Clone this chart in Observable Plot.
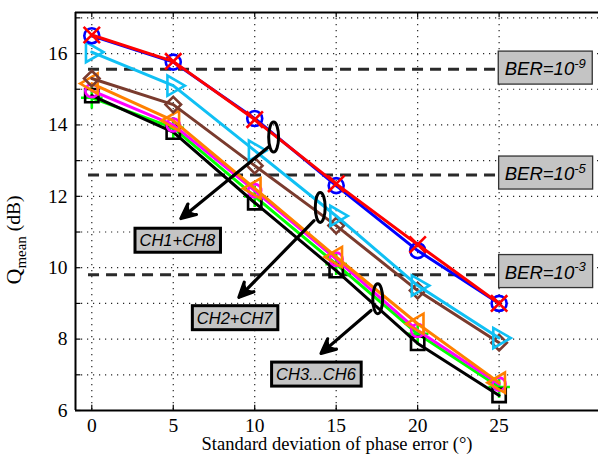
<!DOCTYPE html>
<html><head><meta charset="utf-8">
<script src="https://cdn.jsdelivr.net/npm/d3@7"></script>
<script src="https://cdn.jsdelivr.net/npm/@observablehq/plot@0.6"></script>
<style>body{margin:0;background:#fff} svg{display:block}</style>
</head><body><div id="chart"></div>
<script>
// ---- data ----
const phaseStd = [0, 5, 10, 15, 20, 25];
const ch1 = [16.5, 15.76, 14.18, 12.3, 10.48, 9.0];
const ch8 = [16.52, 15.78, 14.15, 12.35, 10.65, 9.0];
const ch2 = [16.04, 15.1, 13.28, 11.45, 9.5, 8.03];
const ch7 = [15.3, 14.57, 12.86, 11.18, 9.36, 7.9];
const ch5 = [15.16, 14.12, 12.22, 10.3, 8.43, 6.78];
const ch4 = [14.96, 14.0, 12.16, 10.24, 8.24, 6.74];
const ch3 = [14.76, 13.92, 12.0, 10.1, 8.15, 6.66];
const ch6 = [14.82, 13.8, 11.82, 9.92, 7.88, 6.42];

const xTicks = [0, 5, 10, 15, 20, 25];
const yTickLabels = [6, 8, 10, 12, 14, 16];
const yMinorTicks = [6, 7, 8, 9, 10, 11, 12, 13, 14, 15, 16, 17];
const yGrid = [7, 8, 9, 10, 11, 12, 13, 14, 15, 16, 17];

const berLevels = [15.56, 12.6, 9.8];
const berExps = ["-9", "-5", "-3"];
const berLabelX = [28.2, 28.2, 28.2];
const berLabelY = [15.56, 12.62, 9.86];

const groupNames = ["CH1+CH8", "CH2+CH7", "CH3...CH6"];
const ellipseX = [11.16, 14.02, 17.55];
const ellipseY = [13.66, 11.69, 9.13];
const arrowX1 = [10.9, 13.64, 17.14];
const arrowY1 = [13.4, 11.32, 8.8];
const arrowX2 = [5.47, 9.03, 14.07];
const arrowY2 = [11.38, 9.17, 7.6];
const labelX = [5.25, 8.77, 13.76];
const labelY = [10.75, 8.58, 7.0];

const xLabel = "Standard deviation of phase error (°)";

// ---- styles ----
const series = [
  {vals: ch3, color: "#00ff00", symbol: "plus", r: 7, rotate: 0},
  {vals: ch6, color: "#000000", symbol: "square", r: 7.5, rotate: 0},
  {vals: ch4, color: "#ff00ff", symbol: "circle", r: 6.5, rotate: 0},
  {vals: ch5, color: "#ff8000", symbol: "triangle", r: 7.5, rotate: -90},
  {vals: ch7, color: "#7a3b2e", symbol: "diamond2", r: 7, rotate: 0},
  {vals: ch2, color: "#10c0f4", symbol: "triangle", r: 7.5, rotate: 90},
  {vals: ch1, color: "#0000ff", symbol: "circle", r: 7.5, rotate: 0},
  {vals: ch8, color: "#ff0000", symbol: "times", r: 7.5, rotate: 0}
];

const X0 = -1, X1 = 31.1, Y0 = 6, Y1 = 17.15;
const serif = "Liberation Serif";
const sans = "Liberation Sans";

const ellipseSymbol = {
  draw(ctx, size) {
    const ry = Math.sqrt(size / Math.PI), rx = ry * 0.33, k = 0.5523;
    ctx.moveTo(0, -ry);
    ctx.bezierCurveTo(rx * k, -ry, rx, -ry * k, rx, 0);
    ctx.bezierCurveTo(rx, ry * k, rx * k, ry, 0, ry);
    ctx.bezierCurveTo(-rx * k, ry, -rx, ry * k, -rx, 0);
    ctx.bezierCurveTo(-rx, -ry * k, -rx * k, -ry, 0, -ry);
    ctx.closePath();
  }
};

const gridStyle = {stroke: "#000", strokeOpacity: 0.85, strokeWidth: 1.2, strokeDasharray: "1.2,4.8"};

const marks = [
  Plot.ruleX(xTicks, {x: d => d, ...gridStyle}),
  Plot.ruleY(yGrid, {y: d => d, ...gridStyle}),
  Plot.ruleY(berLevels, {y: d => d, x1: () => -0.2, x2: () => 25.4, stroke: "#2a2a2a", strokeWidth: 3, strokeDasharray: "11,7"})
];

for (const s of series) {
  const rows = phaseStd.map((x, j) => ({x, y: s.vals[j]}));
  marks.push(Plot.line(rows, {x: "x", y: "y", stroke: s.color, strokeWidth: 3}));
  marks.push(Plot.dot(rows, {x: "x", y: "y", symbol: s.symbol, r: s.r, rotate: s.rotate, stroke: s.color, fill: "none", strokeWidth: 2.6}));
}

const idx = groupNames.map((_, i) => i);
marks.push(
  Plot.dot(idx, {x: i => ellipseX[i], y: i => ellipseY[i], symbol: ellipseSymbol, r: 15, stroke: "#000", fill: "none", strokeWidth: 3}),
  Plot.arrow(idx, {x1: i => arrowX1[i], y1: i => arrowY1[i], x2: i => arrowX2[i], y2: i => arrowY2[i], stroke: "#000", strokeWidth: 3.2, headLength: 7.5, headAngle: 50, className: "annarrow"}),
  Plot.text(idx, {x: i => labelX[i], y: i => labelY[i], text: i => groupNames[i], fontSize: 16.5, fontStyle: "italic", fontFamily: sans, fill: "#000", className: "chlbl"}),
  Plot.text(berExps.map((_, i) => i), {x: i => berLabelX[i], y: i => berLabelY[i], text: () => "BER=10", fontSize: 18.5, fontStyle: "italic", fontFamily: sans, fill: "#000", dx: -6, className: "berlbl"}),
  // frame (left, bottom, top)
  Plot.ruleX([X0], {x: d => d, stroke: "#000", strokeWidth: 2}),
  Plot.ruleY([Y0], {y: d => d, stroke: "#000", strokeWidth: 2}),
  Plot.ruleY([Y1], {y: d => d, stroke: "#000", strokeWidth: 2}),
  // inner ticks
  Plot.ruleY(yMinorTicks, {y: d => d, x1: () => X0, x2: () => X0 + 0.33, stroke: "#000", strokeWidth: 1.2}),
  Plot.ruleX(xTicks, {x: d => d, y1: () => Y0, y2: () => Y0 + 0.15, stroke: "#000", strokeWidth: 1.2}),
  Plot.ruleX(xTicks, {x: d => d, y1: () => Y1, y2: () => Y1 - 0.15, stroke: "#000", strokeWidth: 1.2}),
  Plot.axisX(xTicks, {anchor: "bottom", tickSize: 0, tickPadding: 8, fontSize: 19.5, fontFamily: serif, label: null}),
  Plot.axisY(yTickLabels, {anchor: "left", tickSize: 0, tickPadding: 8, fontSize: 19.5, fontFamily: serif, label: null}),
  Plot.text([xLabel], {frameAnchor: "bottom", lineAnchor: "middle", text: d => d, dy: 34, fontSize: 18.5, fontFamily: serif, fill: "#000"}),
  Plot.text(["Q"], {frameAnchor: "left", lineAnchor: "middle", text: d => d, fontSize: 22, fontFamily: serif, fill: "#000", className: "ylab"})
);

const svg = Plot.plot({
  width: 598, height: 461,
  marginLeft: 75, marginRight: 0, marginTop: 12, marginBottom: 51,
  x: {domain: [X0, X1], axis: null},
  y: {domain: [Y0, Y1], axis: null},
  style: {fontFamily: serif, color: "#000", background: "#fff"},
  marks
});
document.getElementById("chart").append(svg);

const NS = "http://www.w3.org/2000/svg";
function boxBehind(textEl, opts) {
  const b = textEl.getBBox();
  const cx = b.x + b.width / 2, cy = b.y + b.height / 2;
  const w = opts.w != null ? opts.w : b.width + 2 * opts.px;
  const h = opts.h != null ? opts.h : b.height + 2 * opts.py;
  const r = document.createElementNS(NS, "rect");
  r.setAttribute("x", cx - w / 2);
  r.setAttribute("y", cy - h / 2);
  r.setAttribute("width", w);
  r.setAttribute("height", h);
  r.setAttribute("fill", opts.fill);
  r.setAttribute("stroke", opts.stroke);
  r.setAttribute("stroke-width", opts.sw);
  const t = textEl.getAttribute("transform");
  if (t) r.setAttribute("transform", t);
  textEl.parentNode.insertBefore(r, textEl);
}

// BER labels with superscript exponents
d3.select(svg).selectAll("g.berlbl text").each(function(d, i) {
  d3.select(this).append("tspan").attr("dy", "-0.55em").attr("font-size", "13px").text(berExps[i]);
  boxBehind(this, {w: 94, h: 33, fill: "#c4c4c4", stroke: "#333", sw: 1.3});
});
// CH group labels
d3.select(svg).selectAll("g.chlbl text").each(function() {
  boxBehind(this, {px: 4.5, py: 3, fill: "#c4c4c4", stroke: "#000", sw: 3});
});
// y label with subscript, placed explicitly
d3.select(svg).selectAll("g.ylab text").each(function() {
  const t = d3.select(this);
  t.append("tspan").attr("font-size", "15px").attr("dy", "0.3em").text("mean");
  t.append("tspan").attr("font-size", "19.5px").attr("dy", "-0.3em").text(" (dB)");
  d3.select(this.parentNode).attr("transform", null);
  t.attr("x", null).attr("y", null).attr("text-anchor", "middle").attr("transform", "translate(21,240) rotate(-90)");
});
// filled arrowheads (vback style) built from Plot's own arrow head geometry
d3.select(svg).selectAll("g.annarrow path").each(function() {
  const nums = (this.getAttribute("d").match(/-?\d*\.?\d+(?:e-?\d+)?/g) || []).map(Number);
  if (nums.length < 6) return;
  const n = nums.length;
  const w1 = [nums[n - 6], nums[n - 5]], tip = [nums[n - 4], nums[n - 3]], w2 = [nums[n - 2], nums[n - 1]];
  const mid = [(w1[0] + w2[0]) / 2, (w1[1] + w2[1]) / 2];
  const notch = [tip[0] + (mid[0] - tip[0]) * 0.7, tip[1] + (mid[1] - tip[1]) * 0.7];
  const p = document.createElementNS(NS, "path");
  p.setAttribute("d", `M${w1}L${tip}L${w2}L${notch}Z`);
  p.setAttribute("fill", "#000");
  p.setAttribute("stroke", "#000");
  p.setAttribute("stroke-width", "1.5");
  p.setAttribute("stroke-linejoin", "miter");
  const t = this.getAttribute("transform");
  if (t) p.setAttribute("transform", t);
  this.parentNode.appendChild(p);
});
</script>
</body></html>
